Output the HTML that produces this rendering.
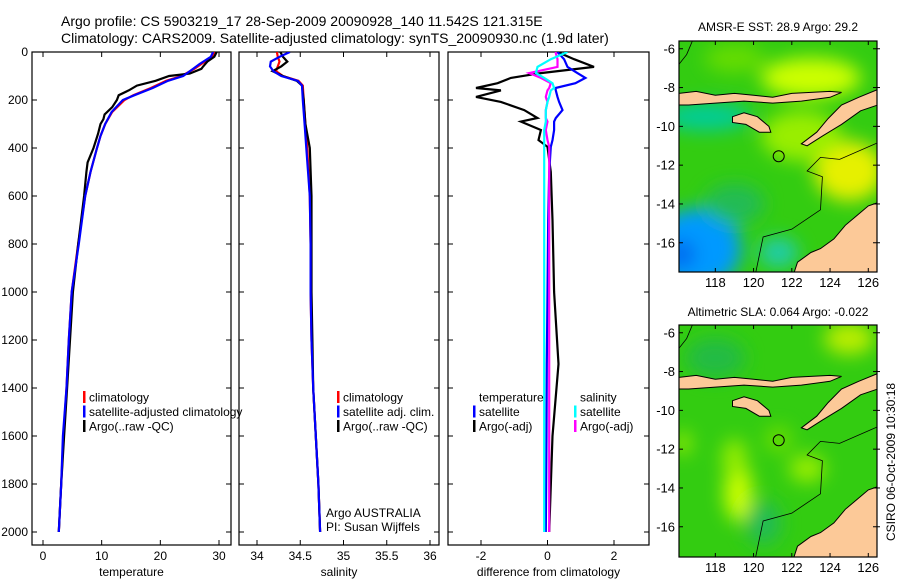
<!DOCTYPE html>
<html><head><meta charset="utf-8">
<style>
html,body{margin:0;padding:0;background:#fff;}
svg{display:block;font-family:"Liberation Sans",Arial,sans-serif;}
text{fill:#000;}
</style></head>
<body>
<svg id="c" width="900" height="580" viewBox="0 0 900 580" xmlns="http://www.w3.org/2000/svg">
<defs>
<filter id="blur" x="-50%" y="-50%" width="200%" height="200%"><feGaussianBlur stdDeviation="9"/></filter>
<clipPath id="clipMap1"><rect x="679" y="41" width="198" height="231"/></clipPath>
<clipPath id="clipMap2"><rect x="679" y="325" width="198" height="232"/></clipPath>
<clipPath id="clipP1"><rect x="32" y="52" width="199" height="493"/></clipPath>
<clipPath id="clipP2"><rect x="239" y="52" width="200" height="493"/></clipPath>
<clipPath id="clipP3"><rect x="448" y="52" width="201" height="493"/></clipPath>
</defs>
<text x="61" y="26" font-size="14">Argo profile: CS 5903219_17 28-Sep-2009 20090928_140 11.542S 121.315E</text>
<text x="61" y="43" font-size="14">Climatology: CARS2009. Satellite-adjusted climatology: synTS_20090930.nc (1.9d later)</text>
<g id="plots"></g>
<g id="maps"></g>
<text transform="translate(895,462) rotate(-90)" text-anchor="middle" font-size="12">CSIRO 06-Oct-2009 10:30:18</text>
</svg>
<script>
// ---------- data ----------
const tempDepth = [0,20,50,70,100,120,150,180,200,250,300,350,400,500,600,800,1000,1200,1400,1600,1800,2000];
const tempClim  = [29.2,28.8,27.0,25.8,23.6,21.0,18.4,15.4,13.9,11.8,10.6,9.8,9.2,8.1,7.2,6.0,4.9,4.4,4.0,3.5,3.1,2.7];
const tempSat   = [29.0,28.6,26.7,25.6,23.9,21.3,18.7,15.6,13.6,11.7,10.6,9.8,9.2,8.1,7.2,6.1,4.9,4.4,4.0,3.4,3.1,2.7];
const argoDepth = [0,20,40,60,70,90,100,120,140,160,180,200,230,260,280,300,340,400,460,500,600,800,1000,1200,1400,1600,1800,1900,2000];
const argoTemp  = [29.6,29.2,28.0,27.3,27.0,25.0,21.5,19.2,16.0,14.6,12.9,12.6,11.8,10.5,10.3,9.8,9.4,8.6,7.6,7.4,7.0,6.0,5.1,4.6,4.1,3.6,3.1,2.9,2.7];
const saltDepth = [0,20,40,60,80,100,120,140,200,300,400,600,800,1000,1200,1400,1600,1800,2000];
const saltClim  = [34.23,34.24,34.26,34.24,34.22,34.30,34.48,34.53,34.54,34.56,34.58,34.61,34.62,34.62,34.63,34.65,34.68,34.71,34.73];
const saltSat   = [34.38,34.26,34.16,34.15,34.19,34.28,34.47,34.52,34.53,34.55,34.57,34.61,34.62,34.62,34.63,34.65,34.68,34.71,34.73];
const argoSalt  = [34.27,34.30,34.35,34.28,34.18,34.30,34.46,34.52,34.54,34.56,34.61,34.63,34.63,34.63,34.64,34.65,34.68,34.71,34.73];
const diffDepth = [0,30,62,88,108,130,150,160,187,208,242,275,290,325,367,395,500,700,1000,1300,1600,2000];
const dTempSat  = [0.3,0.5,0.6,0.9,1.14,0.84,0.24,0.25,0.3,0.35,0.45,0.25,0.2,0.2,0.15,0.1,0.05,0.02,0.0,-0.02,-0.03,-0.05];
const dTempArgo = [0.3,0.8,1.4,-0.2,-1.1,-1.5,-2.15,-1.4,-2.15,-1.4,-0.7,-0.3,-0.8,-0.2,-0.27,0.0,0.1,0.15,0.2,0.33,0.15,0.05];
const dSaltSat  = [0.6,0.1,-0.3,-0.35,-0.1,0.15,0.2,0.1,0.05,0.0,-0.05,-0.05,-0.05,-0.1,-0.1,-0.1,-0.1,-0.1,-0.1,-0.1,-0.1,-0.1];
const dSaltArgo = [0.24,0.3,0.3,-0.55,-0.2,0.1,0.05,0.0,-0.05,0.0,-0.05,-0.05,0.0,-0.05,0.0,0.05,0.05,0.05,0.05,0.05,0.05,0.05];
const depthTicks = [0,200,400,600,800,1000,1200,1400,1600,1800,2000];
const tempTicks = [0,10,20,30];
const saltTicks = [34,34.5,35,35.5,36];
const diffTicks = [-2,0,2];

// ---------- helpers ----------
const NS="http://www.w3.org/2000/svg";
const svg=document.getElementById('c');
const plots=document.getElementById('plots');
function mk(tag,attrs,parent){const e=document.createElementNS(NS,tag);for(const k in attrs)e.setAttribute(k,attrs[k]);(parent||plots).appendChild(e);return e;}
const yTop=52,yBot=545;
function yScale(d){return 52+d*(532-52)/2000;}
function linX(x0,v0,x1,v1){return v=>x0+(v-v0)*(x1-x0)/(v1-v0);}

const panels=[
 {x:32,w:199,clip:'clipP1',xs:linX(43,0,219,30),ticks:tempTicks,label:'temperature',name:'temperature-panel',ylabels:true},
 {x:239,w:200,clip:'clipP2',xs:linX(257,34,430,36),ticks:saltTicks,label:'salinity',name:'salinity-panel'},
 {x:448,w:201,clip:'clipP3',xs:linX(481,-2,614,2),ticks:diffTicks,label:'difference from climatology',name:'difference-panel'}
];

function stepLine(g,xs,vals,depths,color,name,clip){
  let pts=[];
  for(let i=0;i<vals.length;i++){pts.push(xs(vals[i]).toFixed(1)+','+yScale(depths[i]).toFixed(1));}
  const p=mk('polyline',{points:pts.join(' '),fill:'none',stroke:color,'stroke-width':2.2,'clip-path':'url(#'+clip+')'},g);
  
  
}

panels.forEach((P,pi)=>{
  const g=mk('g',{});
  
  
  mk('rect',{x:P.x,y:yTop,width:P.w,height:yBot-yTop,fill:'none',stroke:'#000','stroke-width':1.2},g);
  depthTicks.forEach(d=>{
    const y=yScale(d);
    mk('line',{x1:P.x,x2:P.x+5,y1:y,y2:y,stroke:'#000'},g);
    mk('line',{x1:P.x+P.w-5,x2:P.x+P.w,y1:y,y2:y,stroke:'#000'},g);
    if(P.ylabels){const t=mk('text',{x:P.x-4,y:y+4,'text-anchor':'end','font-size':12},g);t.textContent=d;
      }
  });
  P.ticks.forEach(v=>{
    const x=P.xs(v);
    mk('line',{x1:x,x2:x,y1:yTop,y2:yTop+5,stroke:'#000'},g);
    mk('line',{x1:x,x2:x,y1:yBot-5,y2:yBot,stroke:'#000'},g);
    const t=mk('text',{x:x,y:560,'text-anchor':'middle','font-size':12},g);t.textContent=v;
    
  });
  const t=mk('text',{x:P.x+P.w/2,y:576,'text-anchor':'middle','font-size':12},g);t.textContent=P.label;
  
  P.g=g;
});

// series
stepLine(panels[0].g,panels[0].xs,tempClim,tempDepth,'#ff0000','temp-climatology-line','clipP1');
stepLine(panels[0].g,panels[0].xs,argoTemp,argoDepth,'#000000','temp-argo-line','clipP1');
stepLine(panels[0].g,panels[0].xs,tempSat,tempDepth,'#0000ff','temp-satellite-line','clipP1');
stepLine(panels[1].g,panels[1].xs,saltClim,saltDepth,'#ff0000','salt-climatology-line','clipP2');
stepLine(panels[1].g,panels[1].xs,argoSalt,saltDepth,'#000000','salt-argo-line','clipP2');
stepLine(panels[1].g,panels[1].xs,saltSat,saltDepth,'#0000ff','salt-satellite-line','clipP2');
stepLine(panels[2].g,panels[2].xs,dTempArgo,diffDepth,'#000000','diff-temp-argo-line','clipP3');
stepLine(panels[2].g,panels[2].xs,dTempSat,diffDepth,'#0000ff','diff-temp-satellite-line','clipP3');
stepLine(panels[2].g,panels[2].xs,dSaltArgo,diffDepth,'#ff00ff','diff-salt-argo-line','clipP3');
stepLine(panels[2].g,panels[2].xs,dSaltSat,diffDepth,'#00ffff','diff-salt-satellite-line','clipP3');

// legends
function legend(items,x,y0,name){
  const g=mk('g',{});
  
  
  items.forEach((it,i)=>{
    const y=y0+i*14.5;
    if(it.c) mk('rect',{x:x,y:y-6,width:2.5,height:12,fill:it.c},g);
    const t=mk('text',{x:x+6,y:y+4.5,'font-size':12},g);t.textContent=it.t;
    
  });
}
legend([{c:'#f00',t:'climatology'},{c:'#00f',t:'satellite-adjusted climatology'},{c:'#000',t:'Argo(..raw -QC)'}],83,397,'temperature-legend');
legend([{c:'#f00',t:'climatology'},{c:'#00f',t:'satellite adj. clim.'},{c:'#000',t:'Argo(..raw -QC)'}],337,397,'salinity-legend');
legend([{c:null,t:'temperature'},{c:'#00f',t:'satellite'},{c:'#000',t:'Argo(-adj)'}],473,397,'diff-temperature-legend');
legend([{c:null,t:'salinity'},{c:'#0ff',t:'satellite'},{c:'#f0f',t:'Argo(-adj)'}],574,397,'diff-salinity-legend');
{const t=mk('text',{x:326,y:517,'font-size':12});t.textContent='Argo AUSTRALIA';
 const u=mk('text',{x:326,y:531,'font-size':12});u.textContent='PI: Susan Wijffels';}

// ---------- maps ----------
const lonTicks=[118,120,122,124,126];
const latTicks=[-6,-8,-10,-12,-14,-16];
const islandA=[[116.1,-8.3],[117,-8.2],[118,-8.4],[119,-8.3],[120,-8.4],[121,-8.5],[122,-8.3],[123,-8.25],[124,-8.2],[124.6,-8.25],[124,-8.5],[122.5,-8.7],[121,-8.8],[119.5,-8.7],[118,-8.8],[116.6,-8.9],[116.1,-8.9]];
const islandSumba=[[118.9,-9.5],[119.5,-9.3],[120.2,-9.5],[120.8,-10.0],[120.9,-10.3],[120.3,-10.3],[119.6,-9.9],[118.9,-9.8]];
const islandTimor=[[122.5,-10.9],[123.3,-10.3],[123.9,-9.6],[124.6,-8.9],[125.5,-8.5],[126.5,-8.1],[126.5,-8.9],[125.6,-9.2],[124.6,-9.9],[123.6,-10.5],[122.8,-11.0]];
const islandAus=[[122.1,-17.6],[122.3,-17.0],[123.0,-16.5],[123.5,-16.3],[124.2,-15.8],[124.8,-15.1],[125.4,-14.6],[126.0,-14.1],[126.6,-13.9],[126.6,-17.6]];
const argoLon=121.315, argoLat=-11.542;
const maps=[
 {title:'AMSR-E SST: 28.9 Argo: 29.2',top:41,h:231,lat0:-5.6,clip:'clipMap1',name:'sst-map',titleY:31,
  blobs:[{lon:123,lat:-7.5,rx:50,ry:20,c:'#ccff00'},{lon:125,lat:-12.3,rx:35,ry:30,c:'#e6f000'},{lon:122.5,lat:-10.5,rx:40,ry:25,c:'#99ee00'},{lon:119,lat:-6.5,rx:30,ry:14,c:'#66dd00'},
         {lon:117.5,lat:-9.5,rx:45,ry:14,c:'#00cc99'},{lon:117,lat:-16.3,rx:45,ry:40,c:'#0099ff'},{lon:116.2,lat:-16.6,rx:14,ry:14,c:'#0066ee'},{lon:121.3,lat:-16.5,rx:20,ry:15,c:'#22ccaa'},{lon:119,lat:-14,rx:30,ry:20,c:'#22bb55'}]},
 {title:'Altimetric SLA: 0.064 Argo: -0.022',top:325,h:232,lat0:-5.6,clip:'clipMap2',name:'sla-map',titleY:316,
  blobs:[{lon:119.2,lat:-14.2,rx:14,ry:30,c:'#ccff00'},{lon:119,lat:-12.5,rx:12,ry:20,c:'#99ee00'},{lon:125,lat:-6.3,rx:25,ry:16,c:'#bbee00'},{lon:122.8,lat:-13,rx:18,ry:14,c:'#99ee00'},{lon:121.3,lat:-11.5,rx:14,ry:14,c:'#66dd00'},
         {lon:120.5,lat:-15.8,rx:18,ry:22,c:'#22bb55'},{lon:118,lat:-7.3,rx:30,ry:20,c:'#22bb44'},{lon:116.3,lat:-11.7,rx:8,ry:12,c:'#99ee00'}]}
];
const mg=document.getElementById('maps');
maps.forEach(M=>{
  const X=lon=>679+(lon-116.1)*19.12;
  const Y=lat=>M.top+(M.lat0-lat)*19.4;
  const g=mk('g',{},mg);
  
  
  const inner=mk('g',{'clip-path':'url(#'+M.clip+')'},g);
  mk('rect',{x:679,y:M.top,width:198,height:M.h,fill:'#33cc11'},inner);
  const bl=mk('g',{filter:'url(#blur)'},inner);
  M.blobs.forEach(b=>{mk('ellipse',{cx:X(b.lon),cy:Y(b.lat),rx:b.rx,ry:b.ry,fill:b.c},bl);});
  mk('polyline',{points:[[120.1,-17.6],[120.5,-15.7],[122,-15.3],[123.5,-14.3],[123.6,-12.6],[122.8,-12.3],[123.5,-11.6],[124.5,-11.7],[126.6,-10.8]].map(p=>X(p[0])+','+Y(p[1])).join(' '),fill:'none',stroke:'#000','stroke-width':0.8},inner);
  mk('polyline',{points:[[116.1,-6.8],[116.5,-6.3],[116.8,-5.6]].map(p=>X(p[0])+','+Y(p[1])).join(' '),fill:'none',stroke:'#000','stroke-width':0.8},inner);
  [islandA,islandSumba,islandTimor,islandAus].forEach(poly=>{
    const p=mk('polygon',{points:poly.map(q=>X(q[0]).toFixed(1)+','+Y(q[1]).toFixed(1)).join(' '),fill:'#fcc998',stroke:'#000','stroke-width':1},inner);
    
    
  });
  const c=mk('circle',{cx:X(argoLon),cy:Y(argoLat),r:5.5,fill:'none',stroke:'#000','stroke-width':1},inner);
  
  
  mk('rect',{x:679,y:M.top,width:198,height:M.h,fill:'none',stroke:'#000','stroke-width':1.2},g);
  lonTicks.forEach(l=>{const x=X(l);
    mk('line',{x1:x,x2:x,y1:M.top,y2:M.top+4,stroke:'#000'},g);
    mk('line',{x1:x,x2:x,y1:M.top+M.h-4,y2:M.top+M.h,stroke:'#000'},g);
    const t=mk('text',{x:x,y:M.top+M.h+15,'text-anchor':'middle','font-size':13},g);t.textContent=l;
    });
  latTicks.forEach(l=>{const y=Y(l);
    mk('line',{x1:679,x2:683,y1:y,y2:y,stroke:'#000'},g);
    mk('line',{x1:873,x2:880,y1:y,y2:y,stroke:'#000'},g);
    const t=mk('text',{x:675,y:y+4.5,'text-anchor':'end','font-size':13},g);t.textContent=l;
    });
  const t=mk('text',{x:778,y:M.titleY,'text-anchor':'middle','font-size':12},g);t.textContent=M.title;
  
});
</script>
</body></html>
